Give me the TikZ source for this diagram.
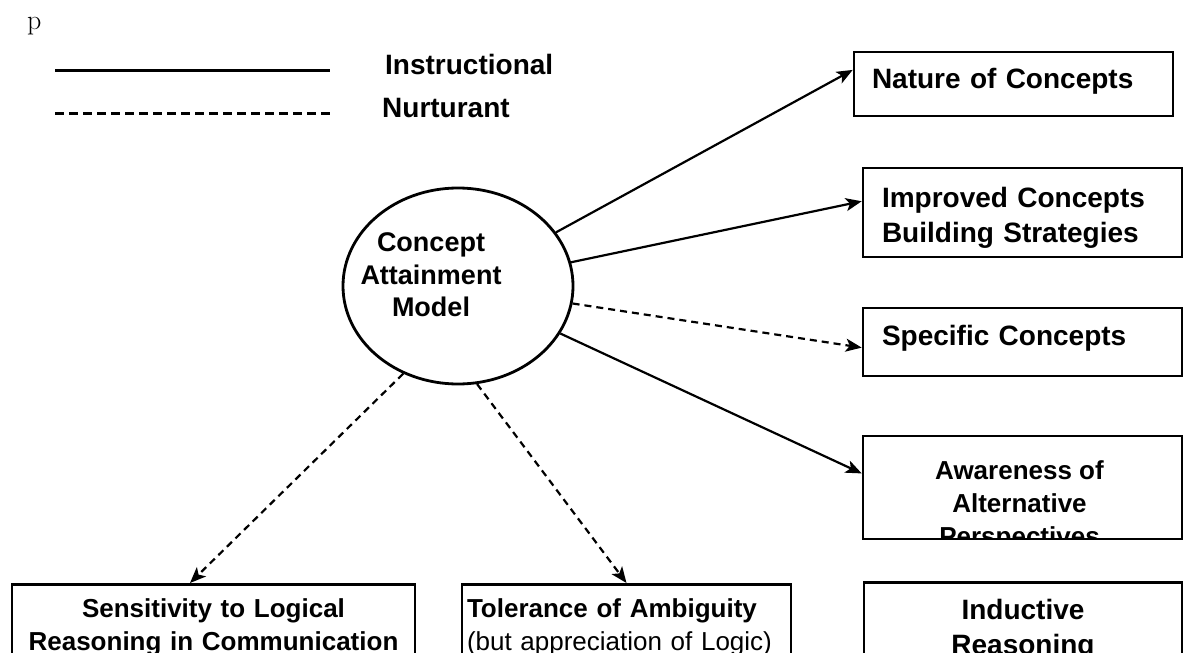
\documentclass[tikz,border=0pt]{standalone}
\usepackage{fontspec}
\usepackage{tikz}
\usetikzlibrary{arrows.meta, shapes.geometric}
\newfontfamily\arialfont{Liberation Sans}
\newcommand{\rightfont}{\arialfont\bfseries\fontsize{28}{35}\selectfont}
\newcommand{\ovalfont}{\arialfont\bfseries\fontsize{27}{32.5}\selectfont}
\newcommand{\lowfont}{\arialfont\bfseries\fontsize{26}{33}\selectfont}
\newcommand{\plainlowfont}{\arialfont\mdseries\fontsize{26}{33}\selectfont}

\tikzset{
  box/.style={draw, rectangle, line width=2.6pt, inner sep=0pt},
  instr/.style={line width=2.2pt, -{Stealth[length=16pt, width=13pt, inset=4pt]}},
  nurt/.style={instr, dash pattern=on 7pt off 5pt},
}

\begin{document}
\begin{tikzpicture}[x=1pt, y=-1pt]
  \useasboundingbox (0,0) rectangle (1183,653);
  \clip (0,0) rectangle (1183,653);

  % Legend
  \node[anchor=base west, inner sep=0pt, font=\fontsize{28}{34}\selectfont] (p) at (27,29) {p};
  \coordinate (i1) at (55,70);
  \coordinate (i2) at (330,70);
  \coordinate (n1) at (55,113);
  \coordinate (n2) at (330,113);
  \draw[line width=3pt] (i1) -- (i2);
  \draw[line width=3pt, dash pattern=on 9pt off 5pt] (n1) -- (n2);
  \node[anchor=west, inner sep=0pt, font=\rightfont] (instrlabel) at (385,64) {Instructional};
  \node[anchor=west, inner sep=0pt, font=\rightfont] (nurtlabel) at (382,108) {Nurturant};

  % Nodes
  \node[ellipse, draw, line width=2.8pt, minimum width=230pt, minimum height=196pt, inner sep=0pt] (cam) at (458,286) {};
  \node[font=\ovalfont, align=center, inner sep=0pt] (camtext) at (431,275) {Concept\\Attainment\\Model};

  \node[box, minimum width=319pt, minimum height=64pt, text width=283pt, inner xsep=18pt, align=left, text depth=12pt, font=\rightfont] (nature) at (1013.5,84) {Nature of Concepts};
  \node[box, minimum width=319pt, minimum height=89pt, text width=281pt, inner xsep=19pt, align=left, text height=30pt, font=\rightfont] (improved) at (1022.5,212.5) {Improved Concepts\\Building Strategies};
  \node[box, minimum width=319pt, minimum height=68pt, text width=281pt, inner xsep=19pt, align=left, text depth=14pt, font=\rightfont] (specific) at (1022.5,342) {Specific Concepts};
  \node[box, minimum width=319pt, minimum height=103pt,
        path picture={\node[anchor=north, inner sep=0pt, align=center, font=\lowfont]
          at ([xshift=-3pt, yshift=-16.5pt]path picture bounding box.north) {Awareness of\\Alternative\\Perspectives};}] (aware) at (1022.5,487.5) {};
  \node[box, anchor=north, minimum width=318pt, text width=300pt, inner xsep=9pt, inner ysep=17pt, align=center, font=\rightfont] (induct) at (1023,581) {Inductive\\Reasoning};

  \node[box, anchor=north, minimum width=403pt, text width=385pt, inner xsep=9pt, inner ysep=14pt, align=center, font=\lowfont] (sens) at (213.5,583) {Sensitivity to Logical\\Reasoning in Communication};
  \node[box, anchor=north, minimum width=329pt, text width=319pt, inner xsep=5pt, inner ysep=14pt, align=left, font=\lowfont] (toler) at (626.5,583) {Tolerance of Ambiguity\\{\plainlowfont (but appreciation of Logic)}};

  % Lines
  \draw[instr] (cam) -- (nature.175);
  \draw[instr] (cam) -- (improved.176);
  \draw[nurt] (cam) -- (specific.182);
  \draw[instr] (cam) -- (aware.175);
  \draw[nurt] (cam.238) -- ([xshift=-23.5pt]sens.north);
  \draw[nurt] (cam.281) -- (toler.north);
\end{tikzpicture}
\end{document}
